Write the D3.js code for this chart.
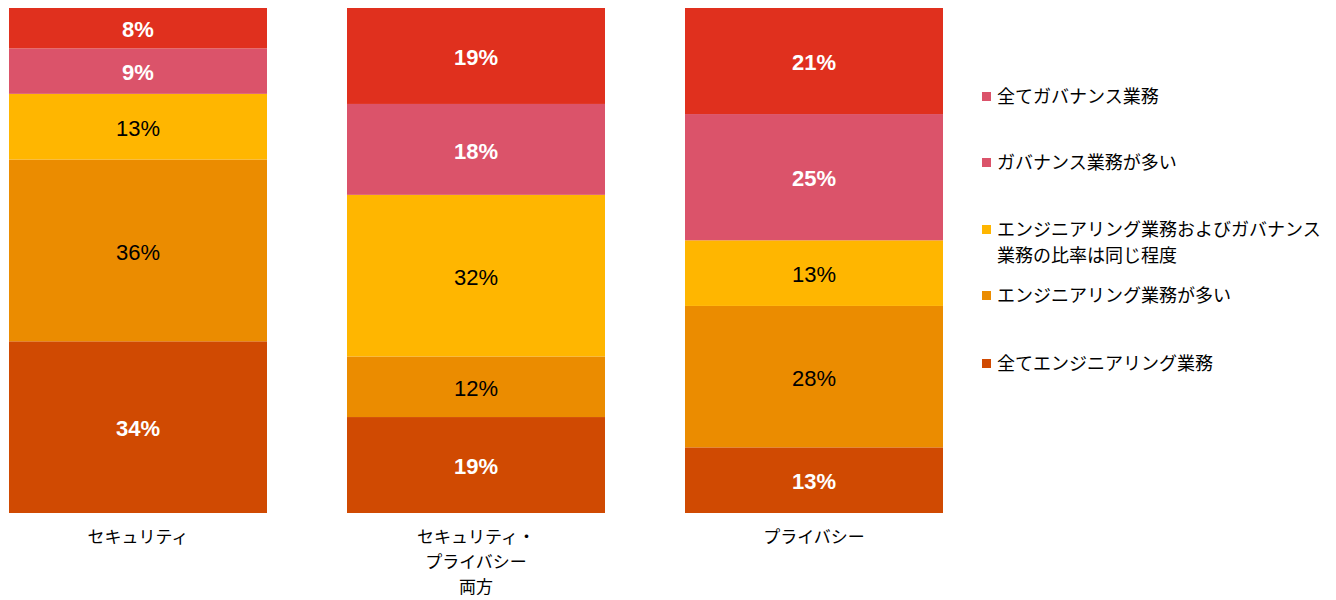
<!DOCTYPE html>
<html>
<head>
<meta charset="utf-8">
<script src="https://cdn.jsdelivr.net/npm/d3@7"></script>
<style>
  body { margin: 0; background: #fff; }
  svg { display: block; }
</style>
</head>
<body>
<svg id="chart" width="1336" height="600"></svg>
<script>
// Categories (x axis), each label split into lines
const categories = ["セキュリティ", "セキュリティ・プライバシー両方", "プライバシー"];
const categoryLines = [["セキュリティ"], ["セキュリティ・", "プライバシー", "両方"], ["プライバシー"]];

// Series, stacked from bottom to top
const seriesNames = [
  "全てエンジニアリング業務",
  "エンジニアリング業務が多い",
  "エンジニアリング業務およびガバナンス業務の比率は同じ程度",
  "ガバナンス業務が多い",
  "全てガバナンス業務"
];
const allEngineering   = [34, 19, 13];
const mostlyEngineering = [36, 12, 28];
const equalShare        = [13, 32, 13];
const mostlyGovernance  = [9, 18, 25];
const allGovernance     = [8, 19, 21];

const seriesColors = ["#d04a02", "#eb8c00", "#ffb600", "#db536a", "#e0301e"];
const labelStyles = [
  { fill: "#ffffff", weight: "bold" },
  { fill: "#000000", weight: "normal" },
  { fill: "#000000", weight: "normal" },
  { fill: "#ffffff", weight: "bold" },
  { fill: "#ffffff", weight: "bold" }
];

// Legend entries, top to bottom
const legendLines = [
  ["全てガバナンス業務"],
  ["ガバナンス業務が多い"],
  ["エンジニアリング業務およびガバナンス", "業務の比率は同じ程度"],
  ["エンジニアリング業務が多い"],
  ["全てエンジニアリング業務"]
];
const legendColors = ["#db536a", "#db536a", "#ffb600", "#eb8c00", "#d04a02"];

const rows = categories.map((c, i) => ({
  category: c,
  s0: allEngineering[i],
  s1: mostlyEngineering[i],
  s2: equalShare[i],
  s3: mostlyGovernance[i],
  s4: allGovernance[i]
}));
const keys = ["s0", "s1", "s2", "s3", "s4"];
const stacked = d3.stack().keys(keys)(rows);

const svg = d3.select("#chart");

const x = d3.scaleBand().domain(categories).range([9, 943]).paddingInner(80 / 338).paddingOuter(0);
const y = d3.scaleLinear().domain([0, 100]).range([513, 8]);

const layers = svg.append("g").selectAll("g")
  .data(stacked)
  .join("g")
  .attr("fill", (d, i) => seriesColors[i]);

layers.selectAll("rect")
  .data(d => d)
  .join("rect")
  .attr("x", d => x(d.data.category))
  .attr("width", x.bandwidth())
  .attr("y", d => y(d[1]))
  .attr("height", d => y(d[0]) - y(d[1]));

// Value labels centred in each segment
stacked.forEach((layer, i) => {
  svg.append("g").selectAll("text")
    .data(layer)
    .join("text")
    .attr("x", d => x(d.data.category) + x.bandwidth() / 2)
    .attr("y", d => (y(d[0]) + y(d[1])) / 2)
    .attr("dy", "0.42em")
    .attr("text-anchor", "middle")
    .attr("font-family", "'Liberation Sans', Arial, sans-serif")
    .attr("font-size", 22)
    .attr("font-weight", labelStyles[i].weight)
    .attr("fill", labelStyles[i].fill)
    .text(d => (d[1] - d[0]) + "%");
});

// Category labels below the bars
const catG = svg.append("g")
  .attr("font-family", "'Noto Sans CJK JP', sans-serif")
  .attr("font-size", 17)
  .attr("fill", "#000");
categories.forEach((c, i) => {
  const t = catG.append("text")
    .attr("x", x(c) + x.bandwidth() / 2)
    .attr("y", 537)
    .attr("text-anchor", "middle");
  categoryLines[i].forEach((line, j) => {
    t.append("tspan")
      .attr("x", x(c) + x.bandwidth() / 2)
      .attr("dy", j === 0 ? "0.36em" : 25)
      .text(line);
  });
});

// Legend
const legendY = [97, 163, 230, 296, 364];
const legend = svg.append("g")
  .attr("font-family", "'Noto Sans CJK JP', sans-serif")
  .attr("font-size", 18)
  .attr("fill", "#000");
legendLines.forEach((lines, i) => {
  legend.append("rect")
    .attr("x", 982)
    .attr("y", legendY[i] - 5)
    .attr("width", 9)
    .attr("height", 9)
    .attr("fill", legendColors[i]);
  const t = legend.append("text")
    .attr("x", 997)
    .attr("y", legendY[i]);
  lines.forEach((line, j) => {
    t.append("tspan")
      .attr("x", 997)
      .attr("dy", j === 0 ? "0.36em" : 26)
      .text(line);
  });
});
</script>
</body>
</html>
